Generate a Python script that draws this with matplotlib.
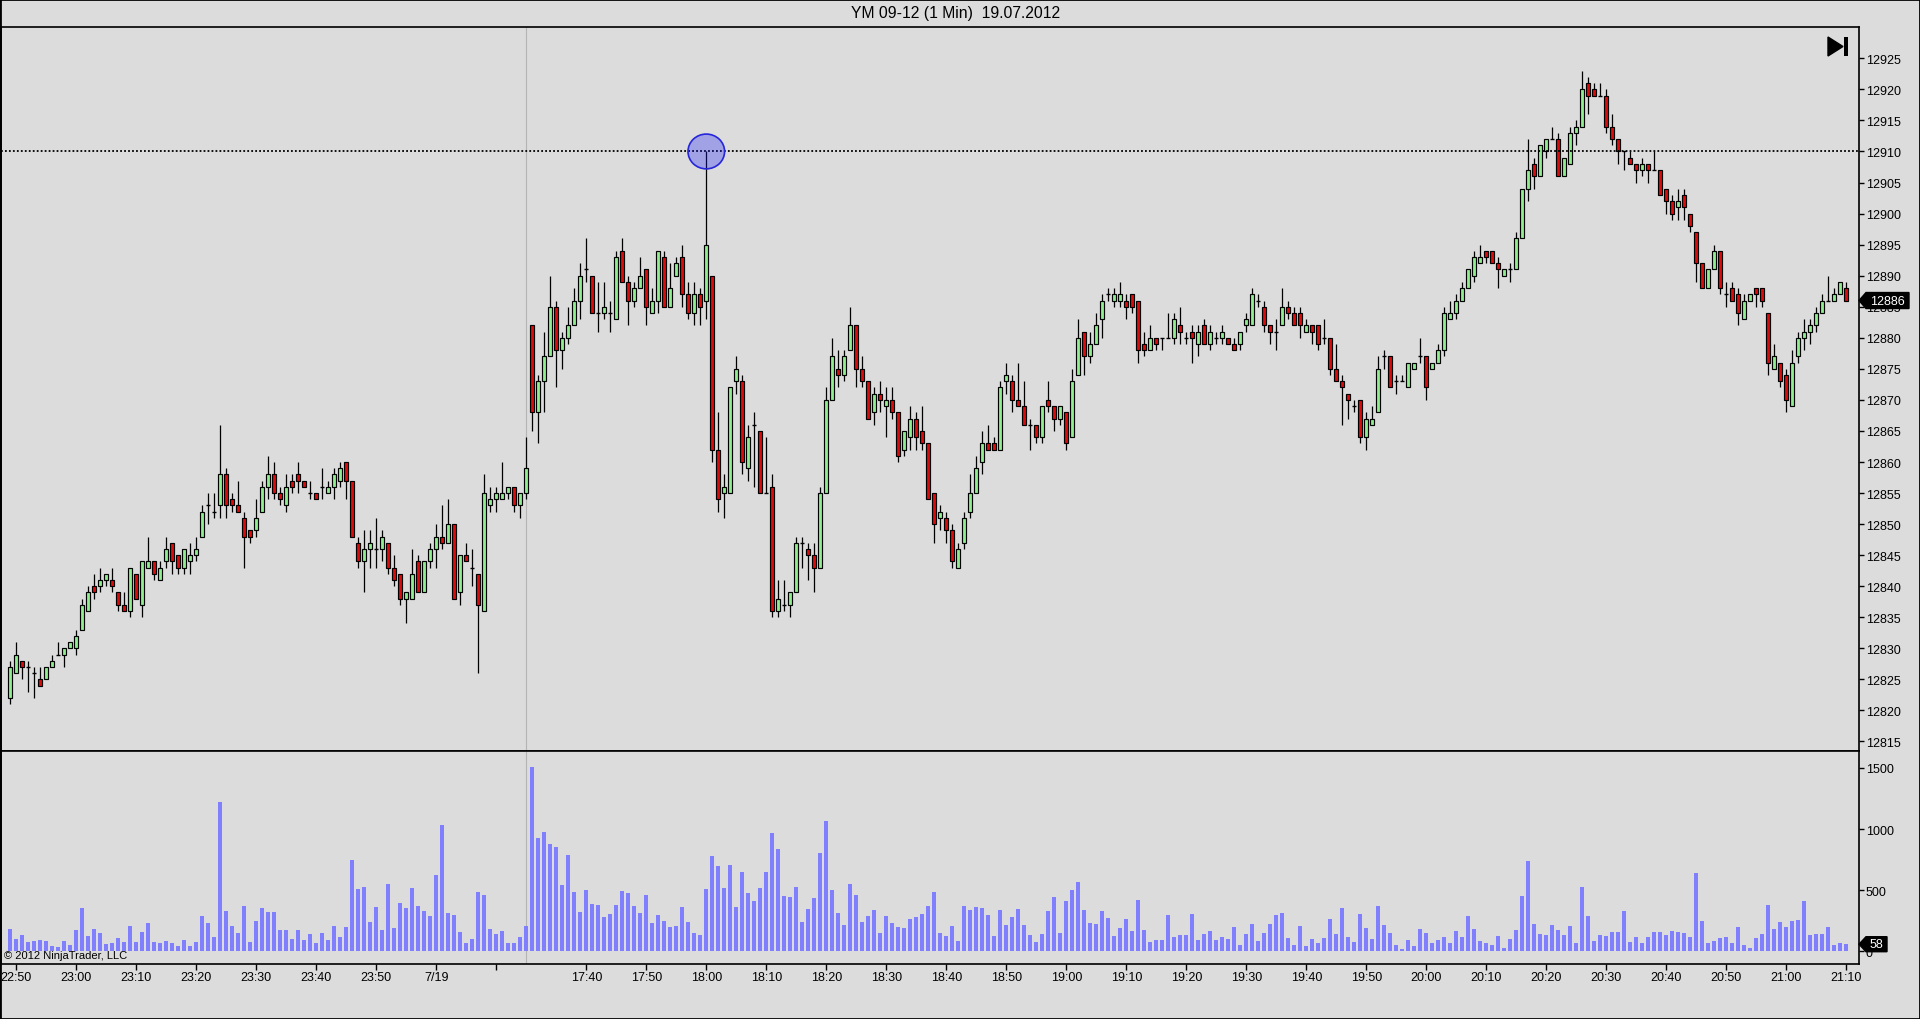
import matplotlib
matplotlib.use("Agg")
import matplotlib.pyplot as plt
from matplotlib.patches import Polygon, Ellipse, Rectangle
from matplotlib.transforms import IdentityTransform
import numpy as np

plt.rcParams['font.family'] = ['Liberation Sans', 'DejaVu Sans']

# ---------------- data (1-minute bars, YM 09-12) ----------------
opens = [
    12822,12826,12828,12827,12826,12825,12825,12827,12829,12829,
    12830,12830,12833,12836,12840,12840,12841,12841,12839,12837,
    12836,12842,12837,12843,12844,12841,12844,12847,12845,12843,
    12844,12845,12848,12853,12852,12853,12858,12854,12853,12851,
    12849,12849,12852,12856,12858,12855,12853,12857,12858,12857,
    12855,12855,12856,12855,12856,12857,12860,12857,12847,12844,
    12846,12846,12846,12847,12843,12842,12838,12838,12844,12839,
    12844,12846,12848,12847,12850,12839,12845,12843,12842,12836,
    12853,12854,12854,12855,12856,12853,12855,12882,12868,12873,
    12877,12885,12878,12880,12882,12886,12891,12890,12884,12884,
    12884,12883,12894,12889,12886,12888,12891,12884,12886,12893,
    12885,12890,12893,12887,12884,12887,12886,12890,12862,12855,
    12855,12873,12873,12859,12866,12865,12855,12856,12836,12837,
    12837,12839,12847,12846,12845,12843,12855,12870,12875,12874,
    12878,12882,12875,12873,12868,12871,12869,12870,12868,12862,
    12864,12867,12865,12863,12855,12851,12851,12849,12843,12847,
    12852,12855,12860,12863,12863,12862,12873,12873,12870,12869,
    12866,12866,12864,12870,12869,12867,12868,12864,12874,12881,
    12877,12879,12883,12887,12886,12886,12886,12887,12886,12879,
    12878,12880,12880,12880,12880,12882,12880,12881,12879,12882,
    12879,12880,12880,12880,12879,12879,12882,12882,12886,12885,
    12882,12881,12882,12885,12884,12884,12881,12882,12882,12880,
    12880,12875,12873,12871,12869,12870,12864,12866,12868,12877,
    12877,12873,12873,12872,12875,12877,12877,12875,12876,12878,
    12883,12884,12886,12888,12890,12892,12894,12894,12892,12890,
    12891,12891,12896,12904,12908,12906,12910,12912,12912,12906,
    12908,12913,12914,12921,12920,12919,12919,12914,12912,12910,
    12909,12908,12907,12908,12907,12907,12904,12902,12901,12903,
    12900,12897,12892,12888,12891,12894,12887,12888,12887,12883,
    12886,12888,12888,12884,12875,12876,12874,12869,12877,12880,
    12881,12882,12884,12886,12886,12887,12888]
highs = [
    12828,12831,12828,12828,12827,12827,12827,12829,12831,12830,
    12831,12833,12838,12840,12842,12843,12842,12843,12839,12839,
    12843,12842,12844,12848,12844,12844,12848,12847,12845,12846,
    12847,12848,12853,12855,12855,12866,12859,12855,12857,12852,
    12849,12854,12857,12861,12860,12856,12858,12858,12860,12857,
    12857,12855,12859,12857,12859,12860,12860,12857,12848,12849,
    12849,12851,12849,12847,12845,12842,12839,12846,12845,12844,
    12847,12850,12853,12854,12850,12845,12847,12846,12842,12858,
    12856,12856,12860,12856,12856,12855,12864,12882,12874,12881,
    12890,12886,12881,12885,12888,12892,12896,12890,12889,12889,
    12886,12894,12896,12890,12889,12893,12891,12888,12894,12894,
    12892,12893,12895,12889,12889,12888,12910,12890,12868,12858,
    12872,12877,12874,12866,12868,12865,12864,12858,12841,12841,
    12839,12848,12848,12847,12847,12856,12872,12880,12878,12878,
    12885,12882,12877,12873,12872,12873,12872,12872,12868,12865,
    12869,12868,12869,12863,12855,12853,12852,12850,12847,12852,
    12858,12861,12865,12866,12864,12873,12876,12874,12876,12873,
    12867,12866,12869,12873,12869,12869,12868,12875,12883,12881,
    12881,12884,12887,12888,12888,12889,12887,12887,12886,12881,
    12882,12880,12880,12884,12884,12885,12881,12882,12882,12883,
    12882,12881,12882,12880,12880,12881,12884,12888,12887,12886,
    12882,12883,12888,12886,12885,12885,12883,12882,12882,12883,
    12880,12879,12874,12871,12870,12870,12868,12869,12877,12878,
    12877,12874,12874,12876,12876,12880,12877,12876,12879,12885,
    12886,12887,12889,12891,12894,12895,12894,12894,12893,12891,
    12892,12897,12904,12912,12909,12911,12912,12914,12913,12909,
    12914,12915,12923,12922,12921,12921,12920,12916,12912,12910,
    12910,12908,12909,12908,12910,12907,12904,12903,12904,12904,
    12900,12897,12892,12891,12895,12894,12889,12889,12888,12887,
    12887,12888,12888,12884,12879,12876,12875,12878,12881,12883,
    12883,12885,12887,12890,12888,12889,12889]
lows = [
    12821,12826,12825,12823,12822,12824,12825,12827,12829,12827,
    12830,12829,12833,12836,12838,12839,12840,12839,12836,12836,
    12835,12838,12835,12843,12841,12841,12843,12842,12842,12842,
    12842,12844,12848,12850,12851,12851,12851,12852,12852,12843,
    12847,12848,12852,12854,12854,12853,12852,12855,12855,12856,
    12854,12854,12854,12855,12854,12856,12854,12848,12843,12839,
    12843,12843,12844,12842,12840,12837,12834,12838,12839,12839,
    12843,12843,12846,12847,12838,12837,12844,12840,12826,12836,
    12852,12852,12854,12854,12852,12851,12854,12865,12863,12868,
    12877,12872,12875,12879,12882,12883,12889,12884,12881,12883,
    12881,12883,12889,12882,12885,12888,12882,12884,12884,12885,
    12885,12890,12885,12883,12882,12882,12883,12860,12852,12851,
    12855,12871,12858,12857,12856,12855,12855,12835,12835,12836,
    12835,12839,12843,12841,12839,12843,12855,12870,12872,12873,
    12878,12872,12872,12867,12866,12868,12864,12867,12860,12861,
    12862,12862,12862,12854,12847,12849,12847,12843,12843,12846,
    12851,12855,12858,12862,12862,12862,12871,12868,12869,12866,
    12862,12863,12863,12868,12865,12866,12862,12864,12874,12874,
    12876,12879,12880,12886,12885,12885,12883,12884,12876,12877,
    12878,12878,12878,12880,12879,12879,12879,12876,12877,12879,
    12878,12879,12879,12879,12878,12878,12881,12882,12885,12881,
    12879,12878,12882,12883,12882,12880,12881,12879,12878,12879,
    12874,12873,12866,12867,12868,12863,12862,12866,12868,12875,
    12872,12871,12873,12872,12875,12876,12870,12875,12876,12877,
    12883,12883,12886,12888,12889,12892,12892,12892,12888,12890,
    12889,12891,12896,12902,12904,12906,12909,12912,12906,12906,
    12908,12911,12914,12916,12919,12919,12913,12911,12908,12907,
    12908,12905,12906,12905,12907,12903,12900,12899,12899,12899,
    12897,12889,12888,12888,12891,12887,12885,12886,12882,12883,
    12886,12885,12885,12874,12875,12872,12868,12869,12876,12878,
    12879,12881,12884,12886,12886,12887,12886]
closes = [
    12827,12829,12827,12827,12826,12824,12827,12828,12829,12830,
    12831,12832,12837,12839,12839,12841,12842,12840,12837,12836,
    12843,12838,12844,12844,12842,12843,12846,12844,12843,12846,
    12845,12846,12852,12853,12852,12858,12853,12853,12852,12848,
    12848,12851,12856,12858,12855,12854,12856,12856,12857,12856,
    12855,12854,12856,12856,12858,12859,12857,12848,12844,12846,
    12847,12846,12848,12843,12841,12838,12839,12842,12839,12844,
    12846,12848,12847,12850,12838,12845,12844,12843,12837,12855,
    12854,12855,12855,12856,12853,12855,12859,12868,12873,12877,
    12885,12878,12880,12882,12886,12890,12891,12884,12884,12885,
    12884,12893,12889,12886,12888,12890,12885,12886,12894,12885,
    12888,12892,12887,12884,12887,12885,12895,12862,12854,12856,
    12872,12875,12860,12864,12866,12855,12855,12836,12838,12837,
    12839,12847,12847,12845,12843,12855,12870,12877,12874,12877,
    12882,12875,12873,12867,12871,12870,12870,12868,12861,12865,
    12867,12864,12863,12854,12850,12852,12849,12844,12846,12851,
    12855,12859,12863,12862,12862,12872,12874,12870,12869,12866,
    12866,12864,12869,12869,12867,12869,12863,12873,12880,12877,
    12879,12882,12886,12887,12887,12887,12885,12885,12878,12878,
    12880,12879,12880,12880,12883,12881,12880,12880,12881,12879,
    12881,12880,12881,12879,12878,12881,12883,12887,12886,12882,
    12881,12881,12885,12884,12882,12882,12882,12881,12879,12880,
    12875,12873,12872,12870,12869,12864,12867,12867,12875,12877,
    12872,12873,12873,12876,12876,12877,12872,12876,12878,12884,
    12884,12886,12888,12891,12893,12893,12893,12892,12891,12891,
    12891,12896,12904,12907,12906,12911,12912,12912,12906,12909,
    12913,12914,12920,12919,12919,12919,12914,12912,12910,12910,
    12908,12907,12908,12907,12907,12903,12902,12900,12902,12901,
    12898,12892,12888,12891,12894,12888,12887,12886,12884,12886,
    12887,12887,12886,12876,12877,12873,12870,12876,12880,12881,
    12882,12884,12886,12886,12887,12889,12886]
volumes = [
    183,101,134,79,87,93,87,46,38,87,
    52,175,355,125,183,153,63,71,109,79,
    207,79,158,232,79,71,85,71,46,93,
    46,79,289,232,120,1224,330,207,150,371,
    79,248,355,322,322,175,175,101,175,93,
    142,71,150,93,207,117,199,750,510,526,
    240,363,175,551,191,395,355,518,371,330,
    289,624,1034,314,297,158,68,101,485,461,
    183,142,166,68,68,117,207,1508,927,976,
    878,854,543,788,485,322,502,387,379,281,
    305,379,494,477,371,314,461,232,297,248,
    199,207,363,240,150,134,510,780,698,518,
    706,363,649,477,412,518,649,968,837,453,
    445,526,240,346,436,804,1066,502,314,215,
    551,461,240,289,338,150,289,232,199,191,
    265,281,305,371,485,150,125,207,85,371,
    338,363,355,297,125,338,215,281,346,215,
    134,76,142,330,445,150,412,502,567,338,
    232,224,330,273,125,191,265,166,420,175,
    76,93,93,297,117,134,134,305,93,142,
    166,93,117,101,199,52,142,224,85,150,
    224,297,314,109,52,207,44,101,68,109,
    265,142,355,117,76,305,191,101,371,215,
    150,52,19,93,44,183,150,68,93,117,
    68,166,117,289,183,85,68,52,125,27,
    101,175,453,739,224,142,134,215,175,134,
    207,68,526,289,85,134,125,158,158,330,
    76,117,68,117,158,158,134,166,158,150,
    117,641,248,68,85,109,117,68,199,52,
    27,109,142,379,183,240,199,248,256,412,
    134,142,142,199,52,68,58]

# time axis (bar index of each labelled tick)
tick_bars = [1, 11, 21, 31, 41, 51, 61, 71, 81,
             96, 106, 116, 126, 136, 146, 156, 166, 176, 186, 196,
             206, 216, 226, 236, 246, 256, 266, 276, 286, 296, 306]
tick_labels = ['22:50', '23:00', '23:10', '23:20', '23:30', '23:40', '23:50', '7/19', '',
               '17:40', '17:50', '18:00', '18:10', '18:20', '18:30', '18:40', '18:50',
               '19:00', '19:10', '19:20', '19:30', '19:40', '19:50', '20:00', '20:10',
               '20:20', '20:30', '20:40', '20:50', '21:00', '21:10']
price_ticks = list(range(12815, 12926, 5))
volume_ticks = [0, 500, 1000, 1500]
session_break_bar = 86
marker_bar = 116          # 18:00 bar, its high is marked
title = "YM 09-12 (1 Min)  19.07.2012"

assert len(opens) == len(highs) == len(lows) == len(closes) == len(volumes)

# ---------------- style ----------------
W, H, DPI = 1920, 1020, 100
BG = '#DCDCDC'
UP = '#90EE90'
DN = '#DC0C0C'
VOLC = '#8080FF'

fig = plt.figure(figsize=(W / DPI, H / DPI), dpi=DPI, facecolor=BG)


def rect(x0, y0, x1, y1):
    return [x0 / W, 1 - y1 / H, (x1 - x0) / W, (y1 - y0) / H]


ax_p = fig.add_axes(rect(1, 28, 1859, 752))
ax_v = fig.add_axes(rect(1, 752, 1859, 965))

o = np.array(opens, float)
h = np.array(highs, float)
l = np.array(lows, float)
c = np.array(closes, float)
v = np.array(volumes, float)
x = np.arange(len(o))
up = c > o
dn = c < o
dj = c == o

BW = 0.66
ax_p.vlines(x, l, h, color='black', lw=0.9, zorder=2)
ax_p.bar(x[up], (c - o)[up], bottom=o[up], width=BW, color=UP,
         edgecolor='black', linewidth=0.85, zorder=3)
ax_p.bar(x[dn], (o - c)[dn], bottom=c[dn], width=BW, color=DN,
         edgecolor='black', linewidth=0.85, zorder=3)
ax_p.hlines(o[dj], x[dj] - BW / 2, x[dj] + BW / 2, color='black', lw=1.0, zorder=3)

ax_v.bar(x, v, width=BW, color=VOLC, linewidth=0, zorder=2)

for ax in (ax_p, ax_v):
    ax.set_facecolor(BG)
    ax.axvline(session_break_bar, color='#B4B4B4', lw=0.8, zorder=1)
    ax.set_xlim(-1.55, 308.12)
    for s in ax.spines.values():
        s.set_color('black')
        s.set_linewidth(1.2)
    ax.yaxis.tick_right()
    ax.tick_params(axis='y', direction='out', length=3.8, width=1, pad=1.2,
                   labelsize=9, colors='black', left=False)

ax_p.set_ylim(12813.47, 12930.04)
ax_p.set_yticks(price_ticks)
ax_p.set_yticklabels([str(t) for t in price_ticks])
ax_p.tick_params(axis='x', bottom=False, labelbottom=False)

ax_v.set_ylim(-103.9, 1638.5)
ax_v.set_yticks(volume_ticks)
ax_v.set_yticklabels([str(t) for t in volume_ticks])
ax_v.set_xticks(tick_bars)
ax_v.set_xticklabels(tick_labels)
ax_v.tick_params(axis='x', direction='out', length=4, width=1, pad=0.8,
                 labelsize=9, colors='black')

# marked high and its level line
level = highs[marker_bar]
ax_p.axhline(level, color='black', lw=1.3, ls=(0, (1, 1.2)), zorder=4)
ax_p.add_patch(Ellipse((marker_bar, level), width=6.1, height=5.6,
                       facecolor=(0.1, 0.1, 1.0, 0.3), edgecolor=(0.15, 0.15, 0.85),
                       linewidth=1.2, zorder=5))

# title and copyright
fig.text(956 / W, 1 - 13.5 / H, title, ha='center', va='center', fontsize=11.3)
ax_v.text(0.0015, 0.043, "\u00a9 2012 NinjaTrader, LLC", transform=ax_v.transAxes,
          ha='left', va='center', fontsize=8, zorder=6)


# last value tags on the right axis
def tag(ax, value, text, width, half_h):
    xr, yv = ax.transData.transform((ax.get_xlim()[1], value))
    pts = [(xr, yv), (xr + 7, yv + half_h), (xr + width, yv + half_h),
           (xr + width, yv - half_h), (xr + 7, yv - half_h)]
    fig.add_artist(Polygon(pts, closed=True, transform=IdentityTransform(),
                           facecolor='black', edgecolor='black', zorder=10))
    fig.text(xr + 7 + (width - 7) / 2, yv, text, transform=IdentityTransform(),
             color='white', ha='center', va='center', fontsize=9, zorder=11)


tag(ax_p, closes[-1], str(closes[-1]), 50, 8)
tag(ax_v, volumes[-1], str(volumes[-1]), 28, 7.5)

# "go to end" icon (top right)
tri = [(1828, H - 38), (1828, H - 57), (1843, H - 47.5)]
fig.add_artist(Polygon(tri, closed=True, transform=IdentityTransform(),
                       facecolor='black', edgecolor='black', zorder=10))
fig.add_artist(Rectangle((1844, H - 57), 4, 19, transform=IdentityTransform(),
                         facecolor='black', edgecolor='none', zorder=10))

# outer frame
fig.add_artist(Rectangle((0, 0), 1, 1, transform=fig.transFigure, fill=False,
                         edgecolor='black', linewidth=2, zorder=20))

fig.savefig('out.png', dpi=DPI, facecolor=BG)
